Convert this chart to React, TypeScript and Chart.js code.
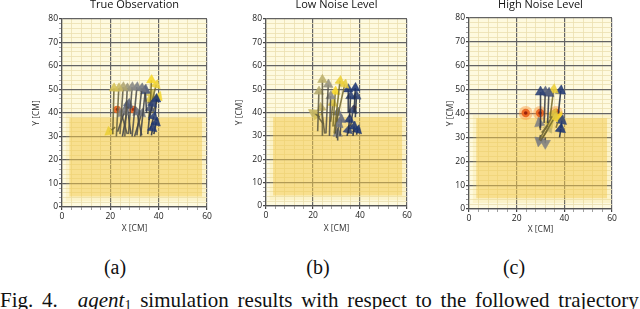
import React, { useEffect, useRef } from "react";
import { Chart, registerables } from "chart.js";
Chart.register(...registerables);

// ---- data ----
// quiver arrows: [x, y, u, v, shade]   shade 0 = navy ... 1 = yellow
const trueObservation: number[][] = [
  [21, 31, 0.5, 19.5, 0.85],
  [22.5, 30, 1, 20.5, 0.8],
  [24, 31, 1.3, 20, 0.7],
  [26, 30, 1, 20.5, 0.62],
  [27.5, 31, 1.5, 20, 0.55],
  [29, 30, 2, 21, 0.48],
  [31, 30.5, 2, 20, 0.42],
  [32.5, 30, 2, 20, 0.35],
  [23, 32, 3, 9, 0.5],
  [27, 31, -2.5, 9, 0.55],
  [30, 30, 3, 10, 0.45],
  [33, 30.5, -2, 10, 0.4],
  [25, 30, 2.5, 14, 0.3],
  [28.5, 31, -1.5, 12, 0.25],
  [37, 30.5, 0.5, 3, 0.05],
  [38, 31, 1, 5, 0.02],
  [36.5, 33, 1.5, 5.5, 0.08],
  [36, 37, 1.5, 7, 0.1],
  [35, 40, -0.5, 9.5, 0.15],
  [38.5, 39, 0.5, 7, 0.0],
  [35.5, 31, 1, 11, 0.25],
  [36.5, 42, 0.5, 12, 1.0],
  [37, 44, 2, 8, 0.95],
  [36, 38, 0.5, 8, 0.9],
  [37.5, 40, 2.5, 7, 0.98],
  [22, 34, -2.5, -2, 0.95],
  [35.5, 44, 1.5, 4, 0.85],
];
const lowNoise: number[][] = [
  [24, 30, 0, 24, 0.75],
  [25.5, 31, 1, 21, 0.6],
  [22, 32, 0.5, 17, 0.72],
  [23, 38, -3, 2, 0.8],
  [25, 31, -1.5, 11, 0.78],
  [27, 30, 0.5, 17, 0.55],
  [24.5, 35, -3, 4, 0.85],
  [29, 31, 2.5, 22.5, 0.95],
  [28.5, 34, 1, 15, 1.0],
  [30, 36, 3.5, 16, 0.92],
  [27.5, 36, 1, 8, 0.9],
  [30, 29, 1, 6, 0.45],
  [29.5, 31, 1, 9, 0.4],
  [31.5, 30, 0.5, 7, 0.35],
  [30.5, 28, 0, 3, 0.5],
  [35, 40, 0, 10, 0.05],
  [37.5, 40, 0.5, 10.5, 0.02],
  [35.5, 38, 0.5, 9, 0.08],
  [38, 38, 0.5, 9, 0.1],
  [35, 31, 0.5, 6, 0.05],
  [37, 30, 0.5, 4, 0.03],
  [34.5, 30, 0.5, 2.5, 0.12],
  [38.5, 30.5, 0.5, 2, 0.0],
  [36, 34, 1, 7, 0.15],
];
const highNoise: number[][] = [
  [30, 34, 0, 15, 0.1],
  [31.5, 36, 0.5, 13, 0.3],
  [33, 36, 0.5, 12.5, 0.2],
  [34, 38, 1.5, 12, 0.95],
  [37.5, 40, 1, 9.5, 0.05],
  [29.5, 29, 6, 11, 0.9],
  [31, 30, 5, 8.5, 0.95],
  [30.5, 32, 3.5, 4, 0.85],
  [30, 28.5, 3.5, 5.5, 0.75],
  [30, 33, -0.5, 3, 0.5],
  [32, 30, 0, -2.5, 0.5],
  [30, 31, -0.5, -2.5, 0.45],
  [38, 30, 0.5, 3.5, 0.02],
  [38.5, 34, 0.5, 3, 0.1],
  [36.5, 34, 1.5, 4.5, 1.0],
];
const trueTargets: number[][] = [[22.8, 41.5], [29.4, 41.5]];
const lowTargets: number[][] = [[37.5, 42]];
const highTargets: number[][] = [[23.8, 40.2], [29.8, 40.2], [36.5, 40.2]];

const regionX = [3, 58];
const regionY = [4.5, 38];
const haloX = [1.5, 59.5];
const haloY = [2.5, 39.5];

const xRange = [0, 60];
const yRange = [0, 80];
const xMajor = 20;
const yMajor = 10;
const xMinor = 4;
const yMinor = 2;

const panelTitles = ["True Observation", "Low Noise Level", "High Noise Level"];
const panelArrows = [trueObservation, lowNoise, highNoise];
const panelTargets = [trueTargets, lowTargets, highTargets];
const captions = ["(a)", "(b)", "(c)"];
const xTitle = "X [CM]";
const yTitle = "Y [CM]";

// ---- layout / style ----
const layouts = [
  { areaLeft: 62, areaRight: 207, areaTop: 19, areaBottom: 207, yTitleX: 37, xTitleY: 229, head: 5.5, targetStyle: "small" },
  { areaLeft: 266, areaRight: 407, areaTop: 19, areaBottom: 206, yTitleX: 240, xTitleY: 229, head: 5.5, targetStyle: "tiny" },
  { areaLeft: 469, areaRight: 612, areaTop: 18, areaBottom: 209, yTitleX: 451, xTitleY: 230, head: 6, targetStyle: "glow" },
];
const captionX = [115, 318, 514];
const FONT = "'Open Sans', 'DejaVu Sans', sans-serif";
const Y_AXIS_W = 42;
const X_AXIS_H = 33;
const RIGHT_PAD = 12;
const TOP_OFF = -2;

const stops: [number, number[]][] = [
  [0, [22, 48, 112]],
  [0.3, [88, 98, 124]],
  [0.55, [135, 135, 132]],
  [0.8, [200, 184, 100]],
  [1, [248, 215, 40]],
];
function cmapRGB(t: number): number[] {
  for (let i = 1; i < stops.length; i++) {
    if (t <= stops[i][0]) {
      const [t0, c0] = stops[i - 1];
      const [t1, c1] = stops[i];
      const f = (t - t0) / (t1 - t0);
      return c0.map((v, k) => Math.round(v + (c1[k] - v) * f));
    }
  }
  return stops[stops.length - 1][1];
}
const rgba = (c: number[], a: number) => `rgba(${c[0]},${c[1]},${c[2]},${a})`;
const shaft = (t: number) => {
  const c = cmapRGB(t).map((v) => Math.round(v * 0.4 + 35 * 0.6));
  return rgba(c, 0.85);
};

const bgPlugin = {
  id: "plotBg",
  beforeDraw(chart: any) {
    const { ctx, chartArea: a } = chart;
    ctx.save();
    ctx.fillStyle = "#fefadf";
    ctx.fillRect(a.left, a.top, a.right - a.left, a.bottom - a.top);
    ctx.restore();
  },
};

function buildDatasets(idx: number) {
  const L = layouts[idx];
  const arrows = panelArrows[idx];
  const targets = panelTargets[idx];
  const ds: any[] = [];
  arrows.forEach(([x, y, u, v, c]) => {
    ds.push({
      type: "line",
      data: [
        { x, y },
        { x: x + u, y: y + v },
      ],
      borderColor: shaft(c),
      borderWidth: 1.6,
      tension: 0,
      fill: false,
      pointStyle: "triangle",
      pointRadius: (ctx: any) => (ctx.dataIndex === 1 ? L.head : 0),
      pointBackgroundColor: rgba(cmapRGB(c), 0.88),
      pointBorderColor: rgba(cmapRGB(c), 0.95),
      pointBorderWidth: 0.5,
      pointRotation: (ctx: any) => {
        const s = ctx.chart.scales;
        if (!s.x || !s.y) return 0;
        const dx = s.x.getPixelForValue(x + u) - s.x.getPixelForValue(x);
        const dy = s.y.getPixelForValue(y + v) - s.y.getPixelForValue(y);
        return (Math.atan2(dx, -dy) * 180) / Math.PI;
      },
    });
  });
  const tData = targets.map(([x, y]) => ({ x, y }));
  const targetLayers =
    L.targetStyle === "glow"
      ? [
          { r: 1.8, color: "rgba(150,30,10,0.95)" },
          { r: 4.2, color: "rgba(235,95,25,0.9)" },
          { r: 7, color: "rgba(250,150,60,0.45)" },
        ]
      : L.targetStyle === "small"
      ? [
          { r: 1.4, color: "rgba(170,40,10,0.9)" },
          { r: 3.8, color: "rgba(232,100,30,0.9)" },
        ]
      : [{ r: 2.4, color: "rgba(230,90,20,0.9)" }];
  targetLayers.forEach((t) => {
    ds.push({
      type: "line",
      data: tData,
      showLine: false,
      pointStyle: "circle",
      pointRadius: t.r,
      pointBackgroundColor: t.color,
      pointBorderWidth: 0,
      borderWidth: 0,
    });
  });
  ds.push({
    type: "line",
    data: [
      { x: regionX[0], y: regionY[1] },
      { x: regionX[1], y: regionY[1] },
    ],
    fill: { value: regionY[0] },
    backgroundColor: "rgba(245,200,70,0.45)",
    borderWidth: 0,
    pointRadius: 0,
  });
  ds.push({
    type: "line",
    data: [
      { x: haloX[0], y: haloY[1] },
      { x: haloX[1], y: haloY[1] },
    ],
    fill: { value: haloY[0] },
    backgroundColor: "rgba(245,210,90,0.16)",
    borderWidth: 0,
    pointRadius: 0,
  });
  return ds;
}

function Panel({ idx }: { idx: number }) {
  const ref = useRef<HTMLCanvasElement | null>(null);
  const L = layouts[idx];
  const left = L.areaLeft - Y_AXIS_W;
  const width = L.areaRight + RIGHT_PAD - left;
  const height = L.areaBottom + X_AXIS_H - TOP_OFF;
  useEffect(() => {
    if (!ref.current) return;
    const titleLH = 11 * 1.2;
    const axisLH = 8.5 * 1.2;
    const tickFont = { family: FONT, size: 8.5 };
    const axisFont = { family: FONT, size: 8.5 };
    const gridOpts = (major: number) => ({
      color: (c: any) => (c.tick && Math.abs(c.tick.value % major) < 1e-6 ? "#636363" : "#ebe0b0"),
      lineWidth: (c: any) => (c.tick && Math.abs(c.tick.value % major) < 1e-6 ? 1.2 : 0.8),
      tickColor: (c: any) => (c.tick && Math.abs(c.tick.value % major) < 1e-6 ? "#444" : "#888"),
      tickLength: 3,
      drawTicks: true,
    });
    const chart = new Chart(ref.current, {
      type: "line",
      data: { datasets: buildDatasets(idx) },
      options: {
        animation: false,
        responsive: false,
        maintainAspectRatio: false,
        devicePixelRatio: 1,
        events: [],
        layout: { padding: { left: 0, right: RIGHT_PAD, top: 0, bottom: 0 } },
        plugins: {
          legend: { display: false },
          tooltip: { enabled: false },
          title: {
            display: true,
            text: panelTitles[idx],
            fullSize: false,
            color: "#111",
            font: { family: FONT, size: 11, weight: "normal", lineHeight: 1.2 },
            padding: { top: 0, bottom: L.areaTop - TOP_OFF - titleLH },
          },
        },
        scales: {
          x: {
            type: "linear",
            min: xRange[0],
            max: xRange[1],
            afterFit: (s: any) => {
              s.height = X_AXIS_H;
            },
            ticks: {
              stepSize: xMinor,
              autoSkip: false,
              maxRotation: 0,
              padding: 1,
              color: "#222",
              font: tickFont,
              callback: (v: any) => (Math.abs(v % xMajor) < 1e-6 ? String(v) : ""),
            },
            grid: gridOpts(xMajor),
            border: { color: "#555", width: 1.2 },
            title: {
              display: true,
              text: xTitle,
              color: "#333",
              font: { ...axisFont, lineHeight: 1.2 },
              padding: { top: 0, bottom: L.areaBottom + X_AXIS_H - L.xTitleY - axisLH / 2 },
            },
          },
          y: {
            type: "linear",
            min: yRange[0],
            max: yRange[1],
            afterFit: (s: any) => {
              s.width = Y_AXIS_W;
            },
            ticks: {
              stepSize: yMinor,
              autoSkip: false,
              padding: 1,
              color: "#222",
              font: tickFont,
              callback: (v: any) => (Math.abs(v % yMajor) < 1e-6 ? String(v) : ""),
            },
            grid: gridOpts(yMajor),
            border: { color: "#555", width: 1.2 },
            title: {
              display: true,
              text: yTitle,
              color: "#333",
              font: { ...axisFont, lineHeight: 1.2 },
              padding: { top: L.yTitleX - left - axisLH / 2, bottom: 0 },
            },
          },
        },
      } as any,
      plugins: [bgPlugin],
    } as any);
    return () => chart.destroy();
  }, [idx]);
  return (
    <canvas
      ref={ref}
      width={width}
      height={height}
      style={{ position: "absolute", left, top: TOP_OFF, width, height }}
    />
  );
}

export default function App() {
  const serif = "'Liberation Serif', 'Times New Roman', serif";
  return (
    <div
      style={{
        position: "fixed",
        left: 0,
        top: 0,
        width: 640,
        height: 309,
        overflow: "hidden",
        background: "#fff",
      }}
    >
      {[0, 1, 2].map((i) => (
        <Panel key={i} idx={i} />
      ))}
      {captions.map((c, i) => (
        <div
          key={c}
          style={{
            position: "absolute",
            left: captionX[i] - 30,
            width: 60,
            textAlign: "center",
            top: 257,
            fontFamily: serif,
            fontSize: 20,
            lineHeight: 1,
            color: "#111",
          }}
        >
          {c}
        </div>
      ))}
      <div
        style={{
          position: "absolute",
          left: 0,
          top: 290,
          whiteSpace: "nowrap",
          fontFamily: serif,
          fontSize: 21,
          lineHeight: 1,
          color: "#111",
          wordSpacing: 3.5,
        }}
      >
        Fig. 4.<span style={{ marginLeft: 20 }} />
        <i>agent</i>
        <sub style={{ fontSize: 14, verticalAlign: "-3px" }}>1</sub> simulation results with respect to the followed trajectory
      </div>
    </div>
  );
}
